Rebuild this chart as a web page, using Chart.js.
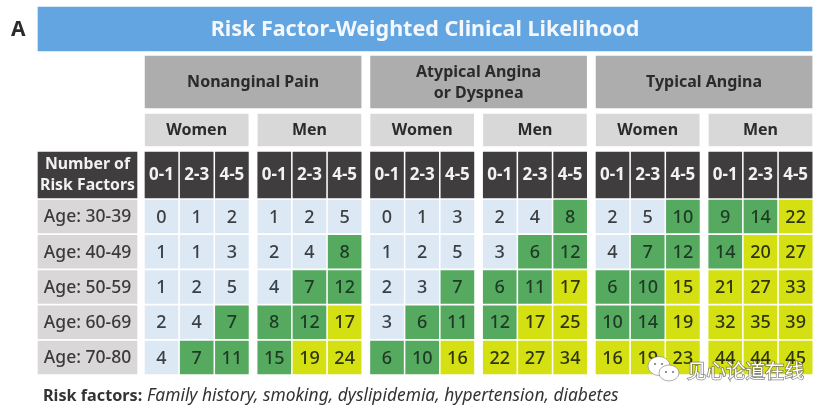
<!DOCTYPE html>
<html><head><meta charset="utf-8">
<style>html,body{margin:0;padding:0;background:#fff}canvas{display:block;filter:blur(.45px)}</style>
<script src="https://cdn.jsdelivr.net/npm/chart.js@4"></script>
</head><body><canvas id="c" width="832" height="406"></canvas>
<script>
const chartTitle = 'Risk Factor-Weighted Clinical Likelihood';
const presentations = ['Nonanginal Pain', 'Atypical Angina\nor Dyspnea', 'Typical Angina'];
const sexes = ['Women', 'Men'];
const riskBins = ['0-1', '2-3', '4-5'];
const ageGroups = ['Age: 30-39', 'Age: 40-49', 'Age: 50-59', 'Age: 60-69', 'Age: 70-80'];
const nonanginalWomen = [[0,1,2],[1,1,3],[1,2,5],[2,4,7],[4,7,11]];
const nonanginalMen   = [[1,2,5],[2,4,8],[4,7,12],[8,12,17],[15,19,24]];
const atypicalWomen   = [[0,1,3],[1,2,5],[2,3,7],[3,6,11],[6,10,16]];
const atypicalMen     = [[2,4,8],[3,6,12],[6,11,17],[12,17,25],[22,27,34]];
const typicalWomen    = [[2,5,10],[4,7,12],[6,10,15],[10,14,19],[16,19,23]];
const typicalMen      = [[9,14,22],[14,20,27],[21,27,33],[32,35,39],[44,44,45]];
const panels = [nonanginalWomen, nonanginalMen, atypicalWomen, atypicalMen, typicalWomen, typicalMen];
const lowMax = 5;
const midMaxByPresentation = [15, 14, 14];

/* layout, in the pixel units of the two linear scales */
const colX = (g, c) => 161.5 + g * 112.75 + c * 35.2;
const rowY = r => 216.5 + r * 35.25;
const H = 33;
const SANS = '"Noto Sans"';
const span = (top, bottom) => [top, bottom];

const band = (label, width, bg, points, texts, font, color, dy, lh) => ({
  label, data: points, cellText: texts, textFont: font, textColor: color, textDy: dy || 0, lineHeight: lh,
  backgroundColor: bg, barThickness: width, borderWidth: 0
});

const tierPts = [[], [], []], tierTxt = [[], [], []];
panels.forEach((panel, g) => panel.forEach((row, r) => row.forEach((v, c) => {
  const t = v <= lowMax ? 0 : v <= midMaxByPresentation[Math.floor(g / 2)] ? 1 : 2;
  tierPts[t].push({x: colX(g, c), y: span(rowY(r) - H / 2, rowY(r) + H / 2)});
  tierTxt[t].push(String(v));
})));

const groupCenters = presentations.map((_, p) => (colX(p * 2, 0) + colX(p * 2 + 1, 2)) / 2);
const sexCenters = panels.map((_, g) => colX(g, 1));
const binCells = panels.flatMap((_, g) => riskBins.map((_, c) => ({x: colX(g, c), y: span(152, 198)})));

const numFont = '500 18px ' + SANS;
const headFont = '700 16px ' + SANS;
const datasets = [
  band('title', 774, '#62a5e0', [{x: 425, y: span(7, 51)}], [chartTitle], '700 21.5px ' + SANS, '#f4f8fd', 1),
  band('presentation', 216, '#adadad', groupCenters.map(x => ({x, y: span(56, 108)})), presentations, headFont, '#2b2b2b', 0.5, 21),
  band('sex', 103, '#d8d8d8', sexCenters.map(x => ({x, y: span(114, 146)})), panels.map((_, g) => sexes[g % 2]), headFont, '#2b2b2b'),
  band('risk bin', 33, '#3f3d3e', binCells, panels.flatMap(() => riskBins), '700 17px ' + SANS, '#f2f2f2'),
  band('risk heading', 99, '#3f3d3e', [{x: 87.5, y: span(152, 198)}], ['Number of\nRisk Factors'], '700 15.8px ' + SANS, '#f2f2f2', 0, 21),
  band('age', 99, '#d9d7d7', ageGroups.map((_, r) => ({x: 87.5, y: span(rowY(r) - H / 2, rowY(r) + H / 2)})), ageGroups, '500 17.5px ' + SANS, '#3a3a3a', 1),
  band('low', H, '#dde8f5', tierPts[0], tierTxt[0], numFont, '#3a3f44', 1),
  band('mid', H, '#55aa60', tierPts[1], tierTxt[1], numFont, '#1f3a24', 1),
  band('high', H, '#d5e012', tierPts[2], tierTxt[2], numFont, '#2f3410', 1)
];

const cellText = {
  id: 'cellText',
  afterDatasetsDraw(chart) {
    const ctx = chart.ctx;
    ctx.save();
    ctx.textAlign = 'center';
    ctx.textBaseline = 'middle';
    chart.data.datasets.forEach((ds, i) => {
      ctx.font = ds.textFont;
      ctx.fillStyle = ds.textColor;
      chart.getDatasetMeta(i).data.forEach((bar, j) => {
        const lines = ds.cellText[j].split('\n');
        const lh = ds.lineHeight || 0;
        const mid = (bar.y + bar.base) / 2 + ds.textDy;
        lines.forEach((ln, k) => ctx.fillText(ln, bar.x, mid + (k - (lines.length - 1) / 2) * lh));
      });
    });
    ctx.restore();
  }
};

const extras = {
  id: 'extras',
  afterDraw(chart) {
    const ctx = chart.ctx;
    ctx.save();
    ctx.textBaseline = 'alphabetic';
    ctx.fillStyle = '#2b2b2b';
    ctx.font = '700 21px ' + SANS;
    ctx.fillText('A', 11, 36);
    ctx.fillStyle = '#333';
    ctx.font = '700 16.2px ' + SANS;
    ctx.fillText('Risk factors:', 43, 401);
    ctx.font = 'italic 17.4px ' + SANS;
    ctx.fillText('Family history, smoking, dyslipidemia, hypertension, diabetes', 147, 401);
    /* watermark */
    ctx.font = '19.5px "Noto Sans CJK SC"';
    ctx.lineWidth = 1.5;
    ctx.strokeStyle = 'rgba(90,90,90,.75)';
    ctx.strokeText('见心论道在线', 687, 378);
    ctx.fillStyle = '#fff';
    ctx.fillText('见心论道在线', 687, 378);
    ctx.strokeStyle = 'rgba(120,120,120,.6)';
    ctx.lineWidth = 1;
    ctx.beginPath(); ctx.ellipse(659, 366, 11, 9.5, 0, 0, 7); ctx.fill(); ctx.stroke();
    ctx.beginPath(); ctx.ellipse(669, 373, 10, 8, 0, 0, 7); ctx.fill(); ctx.stroke();
    ctx.fillStyle = '#777';
    [[655,364],[662,364],[666,372],[673,372]].forEach(([x,y]) => { ctx.beginPath(); ctx.arc(x, y, 1.1, 0, 7); ctx.fill(); });
    ctx.restore();
  }
};

new Chart(document.getElementById('c'), {
  type: 'bar',
  data: {datasets},
  options: {
    responsive: false, animation: false, devicePixelRatio: 1,
    layout: {padding: 0},
    plugins: {legend: {display: false}, title: {display: false}, tooltip: {enabled: false}},
    scales: {
      x: {type: 'linear', min: 0, max: 832, stacked: true, offset: false, display: false},
      y: {type: 'linear', min: 0, max: 406, reverse: true, stacked: false, display: false}
    }
  },
  plugins: [cellText, extras]
});
</script></body></html>
